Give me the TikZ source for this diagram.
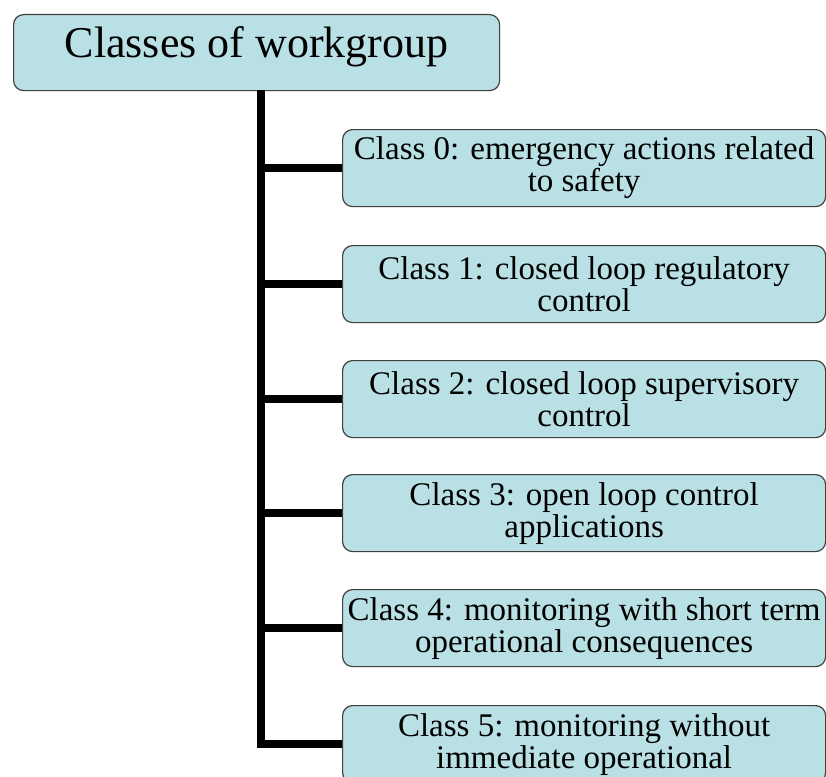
\documentclass[tikz,border=0pt]{standalone}
\usepackage{fontspec}
\setmainfont{Liberation Serif}
\definecolor{boxfill}{RGB}{185,224,228}
\definecolor{boxline}{RGB}{64,64,64}
\tikzset{
    classbox/.style={draw=boxline, line width=1.2pt, fill=boxfill, rounded corners=10pt,
        anchor=north west, minimum width=483pt, minimum height=77pt, inner sep=0pt,
        align=center, font=\fontsize{33}{32}\selectfont,
        execute at begin node=\rule{0pt}{28pt}},
    bar/.style={line width=8.5pt, black}
}
\begin{document}
\begin{tikzpicture}[x=1pt, y=-1pt]
    
    \clip (0,0) rectangle (826,776);
    
    % Heading box
    \node[classbox, minimum width=486pt, minimum height=76pt, text height=30pt, text depth=20pt,
        font=\fontsize{44}{48}\selectfont, execute at begin node={}] (top) at (13,14) {Classes of workgroup};
    \coordinate (trunk) at (261,90);
    
    % Class boxes
    \node[classbox] (c0) at (342,129) {Class 0: emergency actions related\\to safety};
    \node[classbox] (c1) at (342,245) {Class 1: closed loop regulatory\\control};
    \node[classbox] (c2) at (342,360) {Class 2: closed loop supervisory\\control};
    \node[classbox] (c3) at (342,474) {Class 3: open loop control\\applications};
    \node[classbox] (c4) at (342,589) {Class 4: monitoring with short term\\operational consequences};
    \node[classbox] (c5) at (342,705) {Class 5: monitoring without\\immediate operational};
    
    % Trunk and branches
    \draw[bar] (trunk) -- (trunk |- c5.west) -- (c5.west);
    \draw[bar] (trunk |- c0.west) -- (c0.west);
    \draw[bar] (trunk |- c1.west) -- (c1.west);
    \draw[bar] (trunk |- c2.west) -- (c2.west);
    \draw[bar] (trunk |- c3.west) -- (c3.west);
    \draw[bar] (trunk |- c4.west) -- (c4.west);
    
\end{tikzpicture}
\end{document}
